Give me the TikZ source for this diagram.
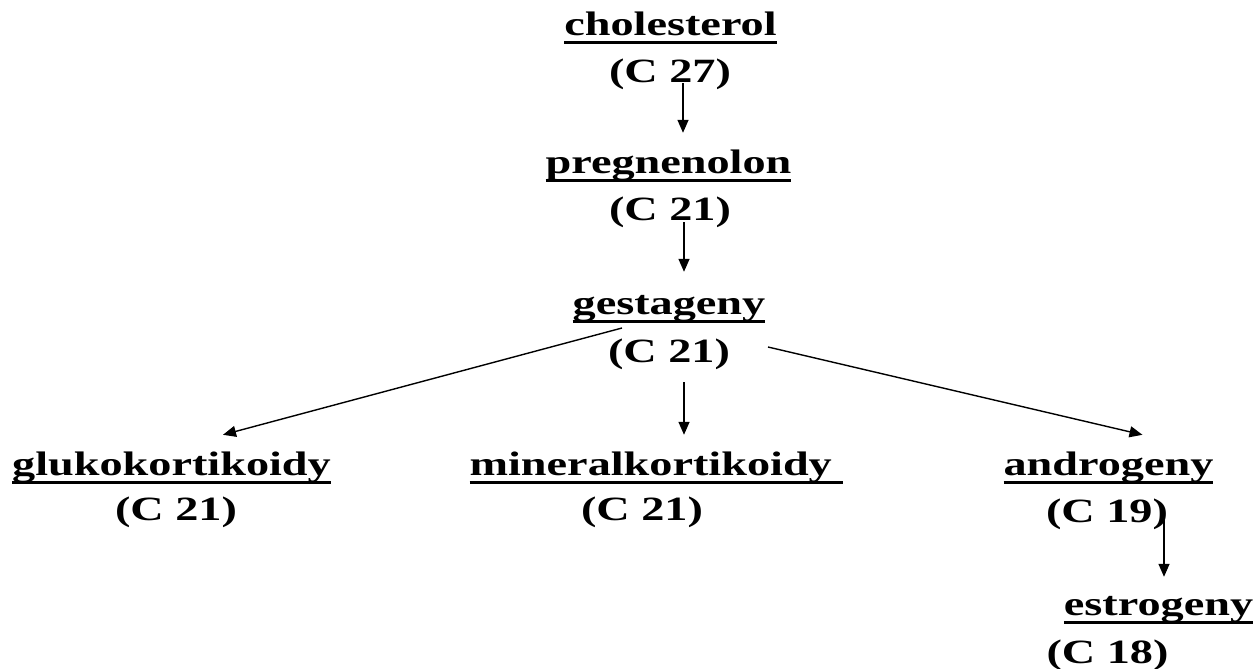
\documentclass[tikz,border=0pt]{standalone}
\usepackage{fontspec}
\setmainfont{Liberation Serif}[FakeStretch=1.36]
\usepackage{tikz}
\usetikzlibrary{arrows.meta,positioning}
\newcommand\ulname[1]{\setbox0\hbox{#1}\rlap{\rule[-8.5pt]{\wd0}{3pt}}\box0}

\begin{document}
\begin{tikzpicture}[
  x=1pt, y=-1pt,
  hormone/.style={inner sep=0pt, anchor=base, text height=40pt, font=\fontsize{34pt}{40pt}\selectfont\bfseries},
  cnum/.style={inner sep=0pt, anchor=base, font=\fontsize{34pt}{40pt}\selectfont\bfseries},
  arr/.style={line width=1.4pt, -{Triangle[length=13pt,width=11pt]}}
]
\fill[white] (0,0) rectangle (1258,669);
\useasboundingbox (0,0) rectangle (1258,669);
\node[hormone] (chol) at (670.5,36) {\ulname{cholesterol}};
\node[cnum] (cholC) at (670,82) {(C 27)};
\node[hormone] (preg) at (668.5,173) {\ulname{pregnenolon}};
\node[cnum] (pregC) at (670,220) {(C 21)};
\node[hormone] (gest) at (669,314) {\ulname{gestageny}};
\node[cnum] (gestC) at (669,362) {(C 21)};
\node[hormone] (gluko) at (171.5,475) {\ulname{glukokortikoidy}};
\node[cnum] (glukoC) at (176,520) {(C 21)};
\node[hormone] (mineral) at (656.5,475) {\ulname{mineralkortikoidy\ }};
\node[cnum] (mineralC) at (642,520) {(C 21)};
\node[hormone] (andro) at (1108.5,475) {\ulname{androgeny}};
\node[cnum] (androC) at (1107,522) {(C 19)};
\node[hormone] (estro) at (1158.5,615) {\ulname{estrogeny}};
\node[cnum] (estroC) at (1107.5,663) {(C 18)};
\draw[arr] ([shift={(13,1)}]cholC.base) -- ([shift={(14.5,0)}]preg.north);
\draw[arr] ([shift={(14,2)}]pregC.base) -- ([shift={(15,-2)}]gest.north);
\draw[arr] ([shift={(15,20)}]gestC.base) -- ([shift={(27.5,0)}]mineral.north);
\draw[arr] ([shift={(-47,-34)}]gestC.base) -- ([shift={(51.5,0)}]gluko.north);
\draw[arr] ([shift={(99,-15)}]gestC.base) -- ([shift={(34,0)}]andro.north);
\draw[arr] ([shift={(57,-2)}]androC.base) -- ([shift={(5.5,2)}]estro.north);
\end{tikzpicture}
\end{document}
